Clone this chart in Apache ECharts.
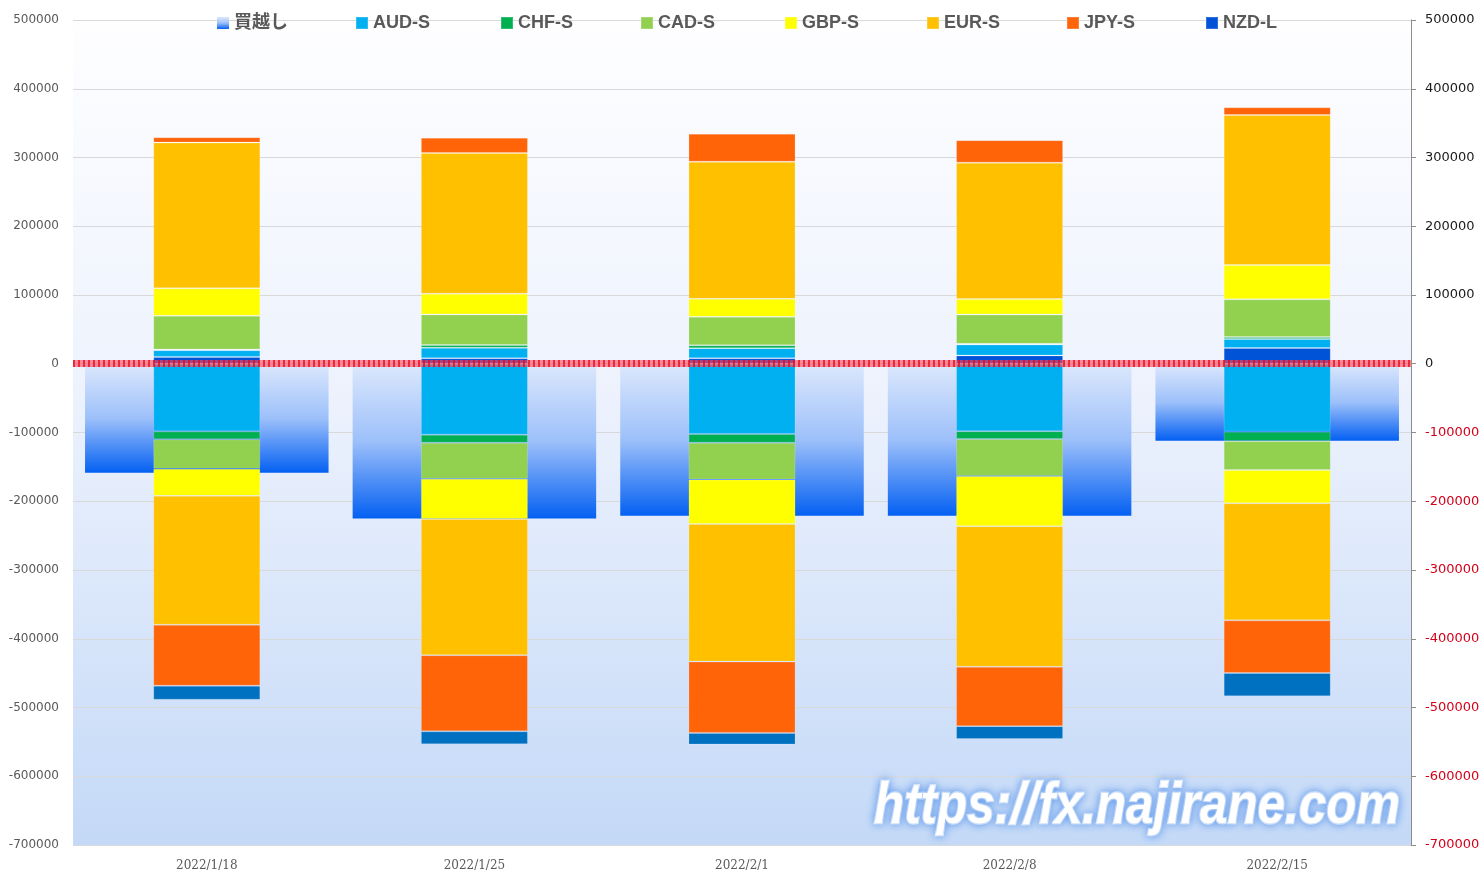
<!DOCTYPE html>
<html lang="ja">
<head>
    <meta charset="UTF-8">
    <title>ポジション</title>
    <style>
        html, body { margin: 0; padding: 0; background: #fff; }
        #main { width: 1484px; height: 872px; }
    </style>
    <script src="https://cdn.jsdelivr.net/npm/echarts@6/dist/echarts.min.js"></script>
</head>
<body>
    <div id="main"></div>
<script>
    // 日付
    var categories = ['2022/1/18', '2022/1/25', '2022/2/1', '2022/2/8', '2022/2/15'];
    // 目盛り
    var yMin = -700000, yMax = 500000, yStep = 100000;

    // ロング（プラス側）
    var nzdL = [10000, 8000, 8000, 12000, 22900];
    var audL = [9700, 15300, 14700, 16000, 13100];
    var chfL = [1000, 4100, 4100, 1000, 2900];
    var cadL = [49000, 44300, 41400, 42500, 54800];
    var gbpL = [40100, 30300, 26300, 22800, 49900];
    var eurL = [211900, 204700, 199400, 198200, 218200];
    var jpyL = [7700, 22200, 40800, 32700, 11200];

    // ショート（マイナス側）
    var audS = [-98300, -103200, -102000, -98000, -98800];
    var chfS = [-11600, -11700, -12900, -11600, -13600];
    var cadS = [-42800, -52500, -53600, -53700, -42100];
    var gbpS = [-39300, -58300, -64700, -72900, -48500];
    var eurS = [-187600, -198200, -200000, -204600, -170200];
    var jpyS = [-88700, -110800, -103800, -86300, -76600];
    var nzdS = [-20400, -18700, -16900, -18700, -33900];

    // 買越し
    var net = [-158500, -225100, -221000, -221000, -111900];

    var colors = {
        AUD: '#00b0f0', CHF: '#00b050', CAD: '#92d050', GBP: '#ffff00',
        EUR: '#ffc000', JPY: '#ff6408', NZDL: '#0052d6', NZDS: '#0070c0'
    };

    var mCharts = echarts.init(document.getElementById('main'));

    function stackBar(name, data, color) {
        return {
            name: name,
            type: 'bar',
            stack: 'pos',
            data: data,
            barWidth: '40%',
            itemStyle: { color: color, borderColor: 'rgba(255,255,255,0.18)', borderWidth: 1 },
            z: 3
        };
    }

    var legendNames = ['買越し', 'AUD-S', 'CHF-S', 'CAD-S', 'GBP-S', 'EUR-S', 'JPY-S', 'NZD-L'];
    var legendLeft = [217, 355, 500, 640, 784, 926, 1066, 1205];
    var legends = legendNames.map(function (n, i) {
        return {
            data: [{ name: n, icon: 'rect' }],
            left: legendLeft[i],
            top: 14,
            padding: 0,
            itemWidth: 12,
            itemHeight: 12,
            selectedMode: false,
            textStyle: { color: '#595959', fontSize: 18, fontWeight: 'bold', fontFamily: 'Liberation Sans, Noto Sans CJK JP' }
        };
    });

    var nzdSeries = stackBar('NZD-L', nzdL, colors.NZDL);
    nzdSeries.markLine = {
        silent: true,
        symbol: 'none',
        label: { show: false },
        data: [
            { yAxis: 0, lineStyle: { color: 'rgba(255,70,90,0.6)', width: 7, type: 'solid' } },
            { yAxis: 0, lineStyle: { color: 'rgba(235,0,20,0.7)', width: 7, type: [2, 3] } }
        ]
    };

    function plain(v) { return String(v); }

    var option = {
        animation: false,
        backgroundColor: '#ffffff',
        legend: legends,
        grid: {
            left: 73, right: 73, top: 20, bottom: 27,
            show: true,
            borderWidth: 0,
            backgroundColor: new echarts.graphic.LinearGradient(0, 0, 0, 1, [
                { offset: 0, color: '#fefeff' },
                { offset: 0.45, color: '#edf2fd' },
                { offset: 1, color: '#c4d9f7' }
            ])
        },
        xAxis: [
            {
                type: 'category',
                data: categories,
                axisLine: { show: false, onZero: false },
                axisTick: { show: false },
                axisLabel: { color: '#595959', fontSize: 12, fontFamily: 'DejaVu Serif', margin: 15 }
            },
            {
                type: 'category',
                data: categories,
                show: false
            }
        ],
        yAxis: [
            {
                type: 'value',
                min: yMin, max: yMax, interval: yStep,
                axisLine: { show: false },
                axisTick: { show: false },
                splitLine: { lineStyle: { color: '#d9d9d9', width: 1 } },
                axisLabel: { color: '#595959', fontSize: 12, fontFamily: 'DejaVu Sans', margin: 14, formatter: plain }
            },
            {
                type: 'value',
                position: 'right',
                min: yMin, max: yMax, interval: yStep,
                axisLine: { show: true, lineStyle: { color: '#8c8c8c' } },
                axisTick: { show: true, inside: false, length: 5, lineStyle: { color: '#8c8c8c' } },
                splitLine: { show: false },
                axisLabel: {
                    fontSize: 13, fontFamily: 'DejaVu Sans', margin: 14, formatter: plain,
                    color: function (v) { return v < 0 ? '#d4001a' : '#1a1a1a'; }
                }
            }
        ],
        series: [
            {
                name: '買越し',
                type: 'bar',
                xAxisIndex: 1,
                data: net,
                barWidth: '91%',
                z: 1,
                itemStyle: {
                    color: new echarts.graphic.LinearGradient(0, 0, 0, 1, [
                        { offset: 0, color: '#dce8fc' },
                        { offset: 0.5, color: '#9dc0fa' },
                        { offset: 1, color: '#0460f2' }
                    ])
                }
            },
            nzdSeries,
            stackBar('AUD-L', audL, colors.AUD),
            stackBar('CHF-L', chfL, colors.CHF),
            stackBar('CAD-L', cadL, colors.CAD),
            stackBar('GBP-L', gbpL, colors.GBP),
            stackBar('EUR-L', eurL, colors.EUR),
            stackBar('JPY-L', jpyL, colors.JPY),
            stackBar('AUD-S', audS, colors.AUD),
            stackBar('CHF-S', chfS, colors.CHF),
            stackBar('CAD-S', cadS, colors.CAD),
            stackBar('GBP-S', gbpS, colors.GBP),
            stackBar('EUR-S', eurS, colors.EUR),
            stackBar('JPY-S', jpyS, colors.JPY),
            stackBar('NZD-S', nzdS, colors.NZDS)
        ],
        // 透かし
        graphic: [{
            type: 'text',
            left: 873,
            top: 778,
            z: 100,
            silent: true,
            scaleX: 0.865,
            style: {
                text: 'https://fx.najirane.com',
                fill: '#ffffff',
                stroke: '#ffffff',
                lineWidth: 2.5,
                font: 'italic bold 57px "Liberation Sans"',
                textShadowColor: 'rgba(90,150,235,0.95)',
                textShadowBlur: 8
            }
        }]
    };

    mCharts.setOption(option);
</script>
</body>
</html>
